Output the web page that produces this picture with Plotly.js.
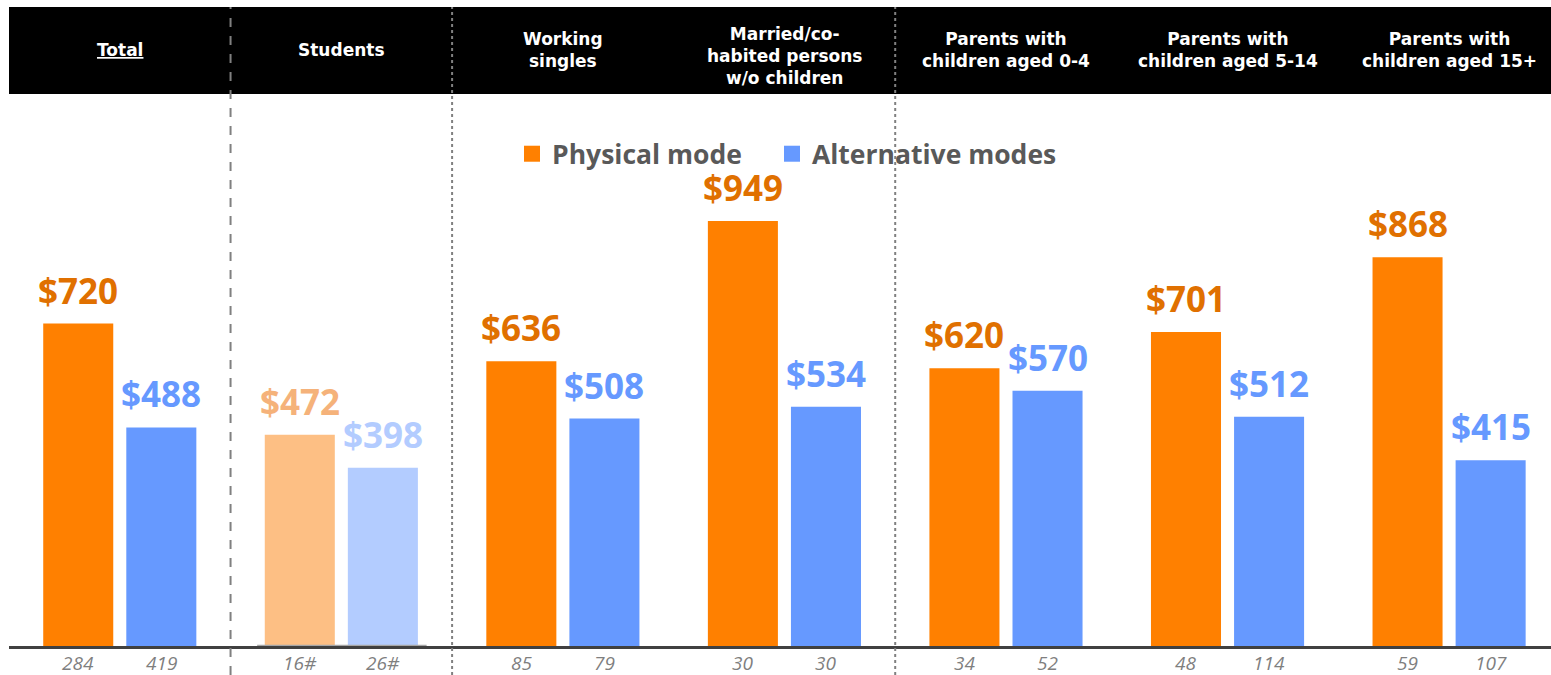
<!DOCTYPE html>
<html>
<head>
<meta charset="utf-8">
<script src="https://cdn.plot.ly/plotly-3.0.1.min.js"></script>
<style>html,body{margin:0;padding:0;background:#fff;}#chart{width:1551px;height:675px;}</style>
</head>
<body>
<div id="chart"></div>
<script>
// ---- data ----
const categories = ['Total','Students','Working singles','Married/co-habited persons w/o children','Parents with children aged 0-4','Parents with children aged 5-14','Parents with children aged 15+'];
const headerLabels = ['<u>Total</u>','Students','Working<br>singles','Married/co-<br>habited persons<br>w/o children','Parents with<br>children aged 0-4','Parents with<br>children aged 5-14','Parents with<br>children aged 15+'];
const physical = [720, 472, 636, 949, 620, 701, 868];
const alternative = [488, 398, 508, 534, 570, 512, 415];
const physicalN = ['284','16#','85','30','34','48','59'];
const alternativeN = ['419','26#','79','30','52','114','107'];
const seriesNames = ['Physical mode','Alternative modes'];

// ---- style ----
const ORANGE = '#FF8000', ORANGE_LIGHT = '#FDBF84';
const BLUE = '#6699FF', BLUE_LIGHT = '#B3CCFF';
const ORANGE_TXT = '#E07000', ORANGE_TXT_LIGHT = '#F5B27A';
const BLUE_TXT = '#6699FF', BLUE_TXT_LIGHT = '#B3CCFF';
const lowBase = [false, true, false, false, false, false, false]; // small-base group shown faded

const bargap = 0.25;
const off = (1 - bargap) / 4;

const traces = [
  {type:'bar', name:seriesNames[0], x:categories, y:physical, showlegend:false,
   marker:{color:lowBase.map(f=>f?ORANGE_LIGHT:ORANGE)}, hoverinfo:'skip'},
  {type:'bar', name:seriesNames[1], x:categories, y:alternative, showlegend:false,
   marker:{color:lowBase.map(f=>f?BLUE_LIGHT:BLUE)}, hoverinfo:'skip'},
  {type:'scatter', mode:'markers', name:seriesNames[0], x:[null], y:[null], legend:'legend',
   marker:{symbol:'square', size:18, color:ORANGE}},
  {type:'scatter', mode:'markers', name:seriesNames[1], x:[null], y:[null], legend:'legend2',
   marker:{symbol:'square', size:18, color:BLUE}}
];

const H = 675, W = 1551;
const mt = 94, mb = 29, ml = 9, mr = 0;
const plotH = H - mt - mb;
const plotW = W - ml - mr;
const py = px => (H - mb - px) / plotH; // pixel row -> paper y
const pxx = px => (px - ml) / plotW;    // pixel col -> paper x

const annotations = [];
categories.forEach((c, i) => {
  // value labels
  annotations.push({x:i-off, y:physical[i], xref:'x', yref:'y', text:'$'+physical[i],
    showarrow:false, yanchor:'bottom', yshift:8,
    font:{family:'Open Sans', size:35, color:lowBase[i]?ORANGE_TXT_LIGHT:ORANGE_TXT, weight:700}});
  annotations.push({x:i+off, y:alternative[i], xref:'x', yref:'y', text:'$'+alternative[i],
    showarrow:false, yanchor:'bottom', yshift:8,
    font:{family:'Open Sans', size:35, color:lowBase[i]?BLUE_TXT_LIGHT:BLUE_TXT, weight:700}});
  // sample sizes
  annotations.push({x:i-off, y:py(676.5), xref:'x', yref:'paper', text:'<i>'+physicalN[i]+'</i>',
    showarrow:false, yanchor:'bottom', borderpad:0, font:{family:'Open Sans', size:19, color:'#7F7F7F'}});
  annotations.push({x:i+off, y:py(676.5), xref:'x', yref:'paper', text:'<i>'+alternativeN[i]+'</i>',
    showarrow:false, yanchor:'bottom', borderpad:0, font:{family:'Open Sans', size:19, color:'#7F7F7F'}});
  // header labels
  annotations.push({x:i, y:py(i===3?56:50), xref:'x', yref:'paper', text:'<b>'+headerLabels[i]+'</b>',
    showarrow:false, yanchor:'middle', align:'center',
    font:{family:'DejaVu Sans', size:17, color:'#FFFFFF'}});
});

const shapes = [
  {type:'rect', xref:'paper', yref:'paper', x0:0, x1:1, y0:1, y1:py(7), fillcolor:'#000', line:{width:0}, layer:'above'},
  {type:'line', xref:'x', yref:'paper', x0:0.5, x1:0.5, y0:py(675), y1:py(7), line:{color:'#808080', width:2, dash:'dash'}},
  {type:'line', xref:'x', yref:'paper', x0:1.5, x1:1.5, y0:py(675), y1:py(7), line:{color:'#808080', width:2, dash:'dot'}},
  {type:'line', xref:'x', yref:'paper', x0:3.5, x1:3.5, y0:py(675), y1:py(7), line:{color:'#808080', width:2, dash:'dot'}},
  {type:'line', xref:'x', yref:'y', x0:0.62, x1:1.385, y0:0, y1:0, line:{color:'#A6A6A6', width:2.5}}
];

const legendFont = {family:'Open Sans', size:26.5, color:'#595959', weight:700};
const layout = {
  width:W, height:H,
  margin:{t:mt, b:mb, l:ml, r:mr, pad:0},
  paper_bgcolor:'#fff', plot_bgcolor:'#fff',
  barmode:'group', bargap:bargap, bargroupgap:0.157,
  xaxis:{type:'category', range:[-0.5, 6.46], showticklabels:false, ticks:'', showgrid:false,
         showline:true, linecolor:'#404040', linewidth:2.5, zeroline:false, fixedrange:true},
  yaxis:{range:[0, plotH/0.4478], visible:false, showgrid:false, zeroline:false, fixedrange:true},
  showlegend:true,
  legend:{orientation:'h', x:pxx(512), xanchor:'left', y:py(154), yanchor:'middle',
          font:legendFont, bgcolor:'rgba(0,0,0,0)', itemclick:false, itemdoubleclick:false},
  legend2:{orientation:'h', x:pxx(772), xanchor:'left', y:py(154), yanchor:'middle',
          font:legendFont, bgcolor:'rgba(0,0,0,0)', itemclick:false, itemdoubleclick:false},
  annotations:annotations,
  shapes:shapes
};

Plotly.newPlot('chart', traces, layout, {displayModeBar:false, staticPlot:true});
</script>
</body>
</html>
